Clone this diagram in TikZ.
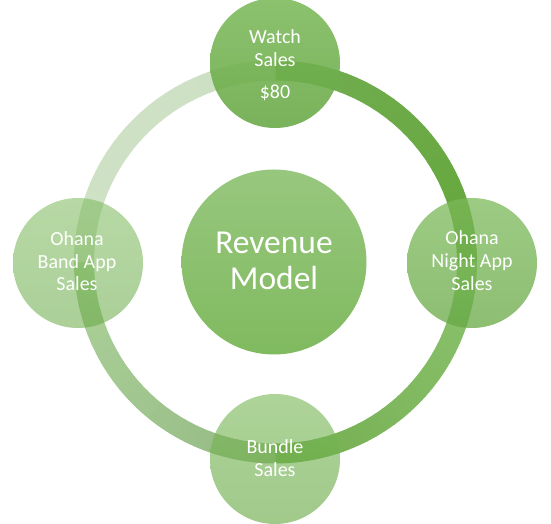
\documentclass[tikz,border=0pt]{standalone}
\usepackage{fontspec}
\setmainfont{Carlito}
\definecolor{trA}{HTML}{65A73B}
\definecolor{trB}{HTML}{72AD52}
\definecolor{tlA}{HTML}{CDE0C3}
\definecolor{tlB}{HTML}{CFE2C6}
\definecolor{blA}{HTML}{ADD29A}
\definecolor{blB}{HTML}{95B983}
\definecolor{brA}{HTML}{74AE4F}
\definecolor{brB}{HTML}{8CC470}
\definecolor{satTop}{HTML}{7CB95A}
\definecolor{satBot}{HTML}{66A843}
\definecolor{midTop}{HTML}{97C77E}
\definecolor{midBot}{HTML}{80BA5F}
\newcommand\ringquad[3]{%
  \foreach \s in {0,3,...,87}{%
    \pgfmathtruncatemacro\p{(\s+1.5)/90*100}%
    \draw[ringpiece, draw=#3!\p!#2] ([shift={(#1+\s:191.5)}]rc)
      arc[start angle=#1+\s, delta angle=3.3, radius=191.5];
  }%
}
\begin{document}
\begin{tikzpicture}[x=1pt,y=1pt,
  ringpiece/.style={line width=20pt},
  sat/.style={circle, minimum size=130pt, inner sep=0pt,
    top color=satTop, bottom color=satBot},
  mid/.style={circle, minimum size=185pt, inner sep=0pt,
    top color=midTop, bottom color=midBot},
  lbl/.style={text=white, inner sep=0pt, anchor=base,
    font=\fontsize{20}{23}\selectfont},
  big/.style={text=white, inner sep=0pt, anchor=base,
    font=\fontsize{33.5}{37}\selectfont}]
\useasboundingbox (0,0) rectangle (551,524);
\coordinate (rc) at (275.5,262);
\ringquad{0}{trA}{trB}
\ringquad{90}{tlA}{tlB}
\ringquad{180}{blA}{blB}
\ringquad{270}{brA}{brB}
\node[mid] (rev) at (274,262) {};
\node[sat, fill opacity=0.88] (watch) at (275,461) {};
\node[sat, fill opacity=0.55] (band) at (78,261) {};
\node[sat, fill opacity=0.75] (night) at (472,261) {};
\node[sat, fill opacity=0.62] (bundle) at (275,65) {};
\node[big] (r1) at (274,270.7) {Revenue};
\node[big] (r2) at (274,234) {Model};
\node[lbl] (w1) at (275,480.7) {Watch};
\node[lbl] (w2) at (275,457.3) {Sales};
\node[lbl] (w3) at (275,425) {\$80};
\node[lbl] (b1) at (77,278) {Ohana};
\node[lbl] (b2) at (77,255.7) {Band App};
\node[lbl] (b3) at (77,233) {Sales};
\node[lbl] (n1) at (472,279) {Ohana};
\node[lbl] (n2) at (472,256.3) {Night App};
\node[lbl] (n3) at (472,233.3) {Sales};
\node[lbl] (u1) at (275,70) {Bundle};
\node[lbl] (u2) at (275,47.3) {Sales};
\end{tikzpicture}
\end{document}
